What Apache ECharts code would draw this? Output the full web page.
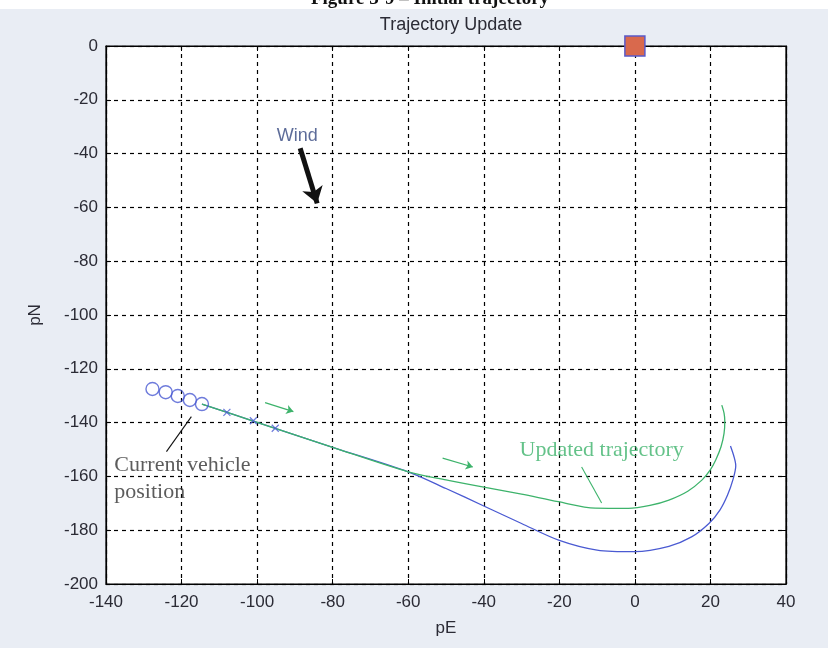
<!DOCTYPE html>
<html><head><meta charset="utf-8">
<script src="https://cdn.jsdelivr.net/npm/echarts@6/dist/echarts.min.js"></script>
<style>html,body{margin:0;padding:0;background:#e9edf4;}#c{width:828px;height:648px;}</style>
</head><body><div id="c"></div>
<script>
// ---- data (pE, pN) ----
const xTicks = [-140,-120,-100,-80,-60,-40,-20,0,20,40];
const yTicks = [-200,-180,-160,-140,-120,-100,-80,-60,-40,-20,0];
const originalTrajectory = [[-114.6,-133.1],[-100,-139.9],[-80,-149.2],[-60,-158.3],[-50,-164.5],[-40,-171],[-30,-177.5],[-20,-183.8],[-10,-187.4],[0,-188],[9,-186],[15,-182.5],[19.6,-177.5],[22.5,-172.5],[24.5,-167],[26,-161],[26.7,-156],[26.2,-152.5],[25.3,-148.7]];
const updatedTrajectory = [[-114.6,-133.1],[-100,-139.9],[-80,-149.2],[-60,-158.3],[-50,-161.3],[-40.7,-163.8],[-30,-166.6],[-20.3,-169.4],[-10.5,-171.8],[-1.7,-171.9],[4,-170.8],[9,-168.8],[14,-165.5],[17.8,-161.3],[20,-157.5],[21.4,-153.9],[22.8,-149],[23.6,-144],[23.8,-139.5],[23.6,-136.5],[23,-133.5]];
const pastPositions = [[-127.7,-127.5],[-124.2,-128.7],[-121,-130.1],[-117.8,-131.6],[-114.6,-133.1]];
const waypoints = [[-108,-136.2],[-101,-139.3],[-95.2,-142.1]];
const target = [[0,0]];
const windArrow = [[-88.6,-38],[-84.1,-58.5]];
const greenArrows = [[[-97.9,-132.6],[-90.4,-135.9]],[[-50.9,-153.2],[-42.9,-156.5]]];
const pointerCurrent = [[-117.4,-137.8],[-124.0,-150.8]];
const pointerUpdated = [[-14.1,-156.5],[-8.8,-169.9]];
const labelWind = {text:'Wind', pos:[-89.4,-33.5]};
const labelCurrent = {text:'Current vehicle\nposition', pos:[-137.8,-160.8]};
const labelUpdated = {text:'Updated trajectory', pos:[-8.8,-150.2]};

const chart = echarts.init(document.getElementById('c'));
const axisCommon = {
  type:'value', interval:20,
  axisLine:{show:true,onZero:false,lineStyle:{color:'#000',width:1.2}},
  axisTick:{show:true,inside:true,length:5,lineStyle:{color:'#000'}},
};
const tickFont = {fontFamily:'Liberation Sans, Arial',fontSize:17,color:'#2b2b35'};
const blue = '#4a5ad2', green = '#3db36b';
chart.setOption({
  backgroundColor:'#e9edf4',
  animation:false,
  title:{text:'Trajectory Update',left:446,top:11,textAlign:'center',
    textStyle:{fontFamily:'Liberation Sans, Arial',fontSize:18,fontWeight:'normal',color:'#2b2b35'}},
  graphic:[
    {type:'rect',shape:{x:0,y:0,width:828,height:9},style:{fill:'#fff'}},
    {type:'text',x:430,y:-10,style:{text:'Figure 3-9 – Initial trajectory',font:'bold 19px "Liberation Serif", serif',fill:'#111',textAlign:'center'}}
  ],
  grid:{left:106,right:42,top:46,bottom:64,show:true,backgroundColor:'#fff',borderColor:'#000',borderWidth:1.2},
  xAxis:[
    Object.assign({},axisCommon,{min:-140,max:40,position:'bottom',
      name:'pE',nameLocation:'middle',nameGap:36,
      nameTextStyle:Object.assign({},tickFont),
      axisLabel:Object.assign({margin:10},tickFont),
      splitLine:{show:true,lineStyle:{color:'#000',type:[4,4],width:1.2}}}),
    Object.assign({},axisCommon,{min:-140,max:40,position:'top',axisLabel:{show:false},splitLine:{show:false}})
  ],
  yAxis:[
    Object.assign({},axisCommon,{min:-200,max:0,position:'left',
      name:'pN',nameLocation:'middle',nameGap:62,nameRotate:90,
      nameTextStyle:Object.assign({},tickFont),
      axisLabel:Object.assign({margin:8},tickFont),
      splitLine:{show:true,lineStyle:{color:'#000',type:[4,4],width:1.2}}}),
    Object.assign({},axisCommon,{min:-200,max:0,position:'right',axisLabel:{show:false},splitLine:{show:false}})
  ],
  series:[
    {type:'line',data:originalTrajectory,smooth:0.3,showSymbol:false,lineStyle:{color:blue,width:1.3},z:3},
    {type:'line',data:updatedTrajectory,smooth:0.3,showSymbol:false,lineStyle:{color:green,width:1.3},z:4},
    {type:'scatter',data:pastPositions,symbol:'circle',symbolSize:13,itemStyle:{color:'rgba(0,0,0,0)',borderColor:'#4a5ad2',borderWidth:1.4},z:5},
    {type:'scatter',data:waypoints,symbol:'path://M0,0L10,10M10,0L0,10',symbolSize:7,itemStyle:{color:'none',borderColor:blue,borderWidth:1.2},z:5},
    {type:'scatter',data:target,symbol:'path://M0,0L10,0L10,10L0,10Z',symbolSize:20,clip:false,zlevel:2,z:20,
      itemStyle:{color:'#d9694d',borderColor:'#5a5ac8',borderWidth:1.5,opacity:1}},
    {type:'lines',coordinateSystem:'cartesian2d',symbol:['none','arrow'],symbolSize:[0,16],
      lineStyle:{color:'#111',width:5,opacity:1},data:[{coords:windArrow}],z:6},
    {type:'lines',coordinateSystem:'cartesian2d',symbol:['none','arrow'],symbolSize:[0,7],
      lineStyle:{color:green,width:1.2,opacity:1},data:greenArrows.map(c=>({coords:c})),z:6},
    {type:'lines',coordinateSystem:'cartesian2d',symbol:'none',
      lineStyle:{color:'#111',width:1.1,opacity:1},data:[{coords:pointerCurrent}],z:6},
    {type:'lines',coordinateSystem:'cartesian2d',symbol:'none',
      lineStyle:{color:green,width:1.1,opacity:1},data:[{coords:pointerUpdated}],z:6},
    {type:'scatter',symbolSize:0,silent:true,z:7,data:[
      {value:labelWind.pos,label:{show:true,position:'inside',formatter:labelWind.text,fontFamily:'Liberation Sans, Arial',fontSize:18,color:'#34477f'}},
      {value:labelCurrent.pos,label:{show:true,position:'right',distance:0,formatter:labelCurrent.text,fontFamily:'Liberation Serif, Times New Roman, serif',fontSize:22,lineHeight:27,color:'#333'}},
      {value:labelUpdated.pos,label:{show:true,position:'inside',formatter:labelUpdated.text,fontFamily:'Liberation Serif, Times New Roman, serif',fontSize:22,color:green}}
    ]}
  ]
});
</script></body></html>
